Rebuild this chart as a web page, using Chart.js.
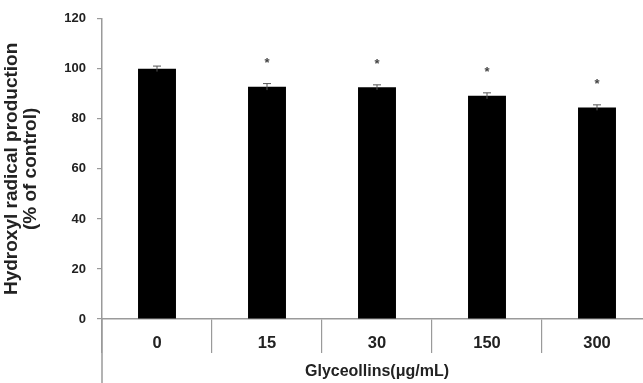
<!DOCTYPE html>
<html>
<head>
<meta charset="utf-8">
<script src="https://cdn.jsdelivr.net/npm/chart.js@4"></script>
<style>
  html,body{margin:0;padding:0;background:#fff;overflow:hidden}
  #wrap{width:660px;height:383px}
</style>
</head>
<body>
<div id="wrap"><canvas id="canvas-hydroxyl" width="660" height="383"></canvas></div>
<script>
const doses=['0','15','30','150','300']
const production=[100,92.8,92.6,89.2,84.5]
const errors=[1.1,1.3,1.0,1.2,1.1]
const marks=['','*','*','*','*']
const yTicks=[0,20,40,60,80,100,120]

const axisGray='#9a9a9a'
const fontFam='"Liberation Sans", Arial, sans-serif'
const canvas_hydroxyl=document.querySelector('#canvas-hydroxyl')

// error whiskers, stars and the y axis going down past the x axis
const extras={
  id:'extras',
  afterDatasetsDraw(chart){
    const ctx=chart.ctx
    const meta=chart.getDatasetMeta(0)
    const y=chart.scales.y
    ctx.save()
    meta.data.forEach((bar,i)=>{
      const top=y.getPixelForValue(production[i]+errors[i])
      const bot=y.getPixelForValue(production[i]-errors[i])
      ctx.strokeStyle='#555'
      ctx.lineWidth=1
      ctx.beginPath()
      ctx.moveTo(bar.x,top);ctx.lineTo(bar.x,bot)
      ctx.moveTo(bar.x-4,top);ctx.lineTo(bar.x+4,top)
      ctx.stroke()
      if(marks[i]){
        ctx.fillStyle='#444'
        ctx.font='bold 13px '+fontFam
        ctx.textAlign='center'
        ctx.textBaseline='middle'
        ctx.fillText(marks[i],bar.x,top-20)
      }
    })
    const area=chart.chartArea
    ctx.strokeStyle=axisGray
    ctx.lineWidth=1.5
    ctx.beginPath()
    ctx.moveTo(area.left,area.bottom)
    ctx.lineTo(area.left,chart.height)
    ctx.stroke()
    ctx.restore()
  }
}

new Chart(canvas_hydroxyl,{
  type:'bar',
  data:{
    labels:doses,
    datasets:[{
      label:'Hydroxyl radical production',
      data:production,
      backgroundColor:'#000',
      borderWidth:0,
      categoryPercentage:1,
      barPercentage:0.345
    }]
  },
  options:{
    responsive:false,
    animation:false,
    layout:{padding:{top:18,right:8,left:0,bottom:0}},
    plugins:{legend:{display:false},tooltip:{enabled:false}},
    scales:{
      x:{
        offset:true,
        grid:{offset:true,drawOnChartArea:false,drawTicks:true,tickLength:34,color:axisGray,lineWidth:1.2},
        border:{display:true,color:axisGray,width:1.5},
        ticks:{padding:-19,color:'#222',font:{family:fontFam,size:16.5,weight:'bold'}},
        title:{display:true,text:'Glyceollins(μg/mL)',color:'#222',padding:{top:0,bottom:2},
          font:{family:fontFam,size:16,weight:'bold'}},
        afterFit(scale){scale.height=64}
      },
      y:{
        min:0,max:120,
        afterBuildTicks(scale){scale.ticks=yTicks.map(v=>({value:v}))},
        grid:{drawOnChartArea:false,drawTicks:true,tickLength:5,color:axisGray,lineWidth:1.2},
        border:{display:true,color:axisGray,width:1.5},
        ticks:{padding:11,color:'#222',font:{family:fontFam,size:13,weight:'bold'}},
        title:{display:true,text:['Hydroxyl radical production','(% of control)'],color:'#222',padding:{top:2,bottom:0},
          font:{family:fontFam,size:19,weight:'bold',lineHeight:1.02}},
        afterFit(scale){scale.width=102}
      }
    }
  },
  plugins:[extras]
})
</script>
</body>
</html>
